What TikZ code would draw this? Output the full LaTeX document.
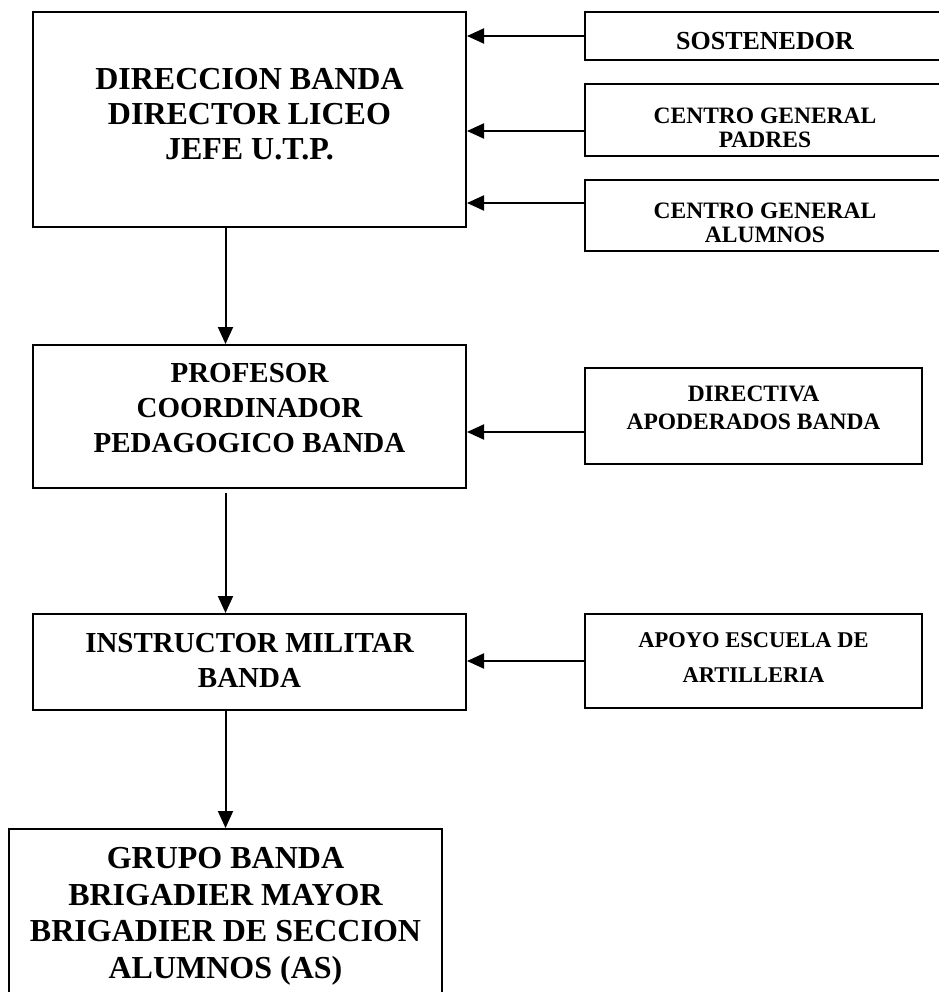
\documentclass[tikz,border=0pt]{standalone}
\usepackage{fontspec}
\setmainfont{Liberation Serif}
\usetikzlibrary{arrows.meta, positioning}

\tikzset{
  caja/.style={draw, line width=2pt, inner sep=0pt},
  flecha/.style={-{Triangle[length=17pt,width=15pt]}, line width=2pt},
  txtgrande/.style={align=center, inner sep=0pt, font=\fontsize{32}{35}\selectfont\bfseries},
  txtmedio/.style={align=center, inner sep=0pt, font=\fontsize{29}{35}\selectfont\bfseries},
  txtchico/.style={align=center, inner sep=0pt, font=\fontsize{23.5}{24}\selectfont\bfseries},
}

\begin{document}
\begin{tikzpicture}[x=1pt,y=1pt,yscale=-1,xscale=1]
\useasboundingbox (0,0) rectangle (938,992);

%Shape: Rectangle, left column
\node[caja, minimum width=433pt, minimum height=215pt] (direccion) at (249.5,119.5) {};
\node[caja, minimum width=433pt, minimum height=143pt] (profesor) at (249.5,416.5) {};
\node[caja, minimum width=433pt, minimum height=96pt] (instructor) at (249.5,662) {};
\node[caja, minimum width=433pt, minimum height=180pt, anchor=north] (grupo) at (225.5,828) {};

%Shape: Rectangle, right column
\node[caja, minimum width=360pt, minimum height=48pt] (sostenedor) at (765,36) {};
\node[caja, minimum width=360pt, minimum height=72pt] (padres) at (765,120) {};
\node[caja, minimum width=360pt, minimum height=71pt] (alumnos) at (765,215.5) {};
\node[caja, minimum width=337pt, minimum height=96pt] (directiva) at (753.5,416) {};
\node[caja, minimum width=337pt, minimum height=94pt] (apoyo) at (753.5,661) {};

% Text Node
\node[txtgrande] (direcciontxt) at (249.5,114) {DIRECCION BANDA\\DIRECTOR LICEO\\JEFE U.T.P.};
% Text Node
\node[txtmedio] (profesortxt) at (249.5,408) {PROFESOR\\COORDINADOR\\PEDAGOGICO BANDA};
% Text Node
\node[txtmedio] (instructortxt) at (249.5,660.5) {INSTRUCTOR MILITAR\\BANDA};
% Text Node
\node[txtgrande, anchor=north, font=\fontsize{32}{36.7}\selectfont\bfseries] (grupotxt) at (225.5,847) {GRUPO BANDA\\BRIGADIER MAYOR\\BRIGADIER DE SECCION\\ALUMNOS (AS)};
% Text Node
\node[txtchico, font=\fontsize{26}{24}\selectfont\bfseries] (sostenedortxt) at (765,41) {SOSTENEDOR};
% Text Node
\node[txtchico] (padrestxt) at (765,127.5) {CENTRO GENERAL\\PADRES};
% Text Node
\node[txtchico] (alumnostxt) at (765,222.5) {CENTRO GENERAL\\ALUMNOS};
% Text Node
\node[txtchico] (directivatxt) at (753.5,407.5) {DIRECTIVA\\[4pt]APODERADOS BANDA};
% Text Node
\node[txtchico, font=\fontsize{22.5}{24}\selectfont\bfseries] (apoyotxt) at (753.5,657.5) {APOYO ESCUELA DE\\[11pt]ARTILLERIA};

%Straight Lines, right to left
\draw[flecha] (sostenedor.west) -- (sostenedor.west -| direccion.east);
\draw[flecha] ([yshift=11pt]padres.west) -- ([yshift=11pt]padres.west -| direccion.east);
\draw[flecha] ([yshift=-12.5pt]alumnos.west) -- ([yshift=-12.5pt]alumnos.west -| direccion.east);
\draw[flecha] ([yshift=16pt]directiva.west) -- ([yshift=16pt]directiva.west -| profesor.east);
\draw[flecha] (apoyo.west) -- (apoyo.west -| instructor.east);

%Straight Lines, top to bottom
\draw[flecha] (direccion.south -| grupo.north) -- (profesor.north -| grupo.north);
\draw[flecha, shorten <=4pt] (profesor.south -| grupo.north) -- (instructor.north -| grupo.north);
\draw[flecha] (instructor.south -| grupo.north) -- (grupo.north);
\end{tikzpicture}
\end{document}
